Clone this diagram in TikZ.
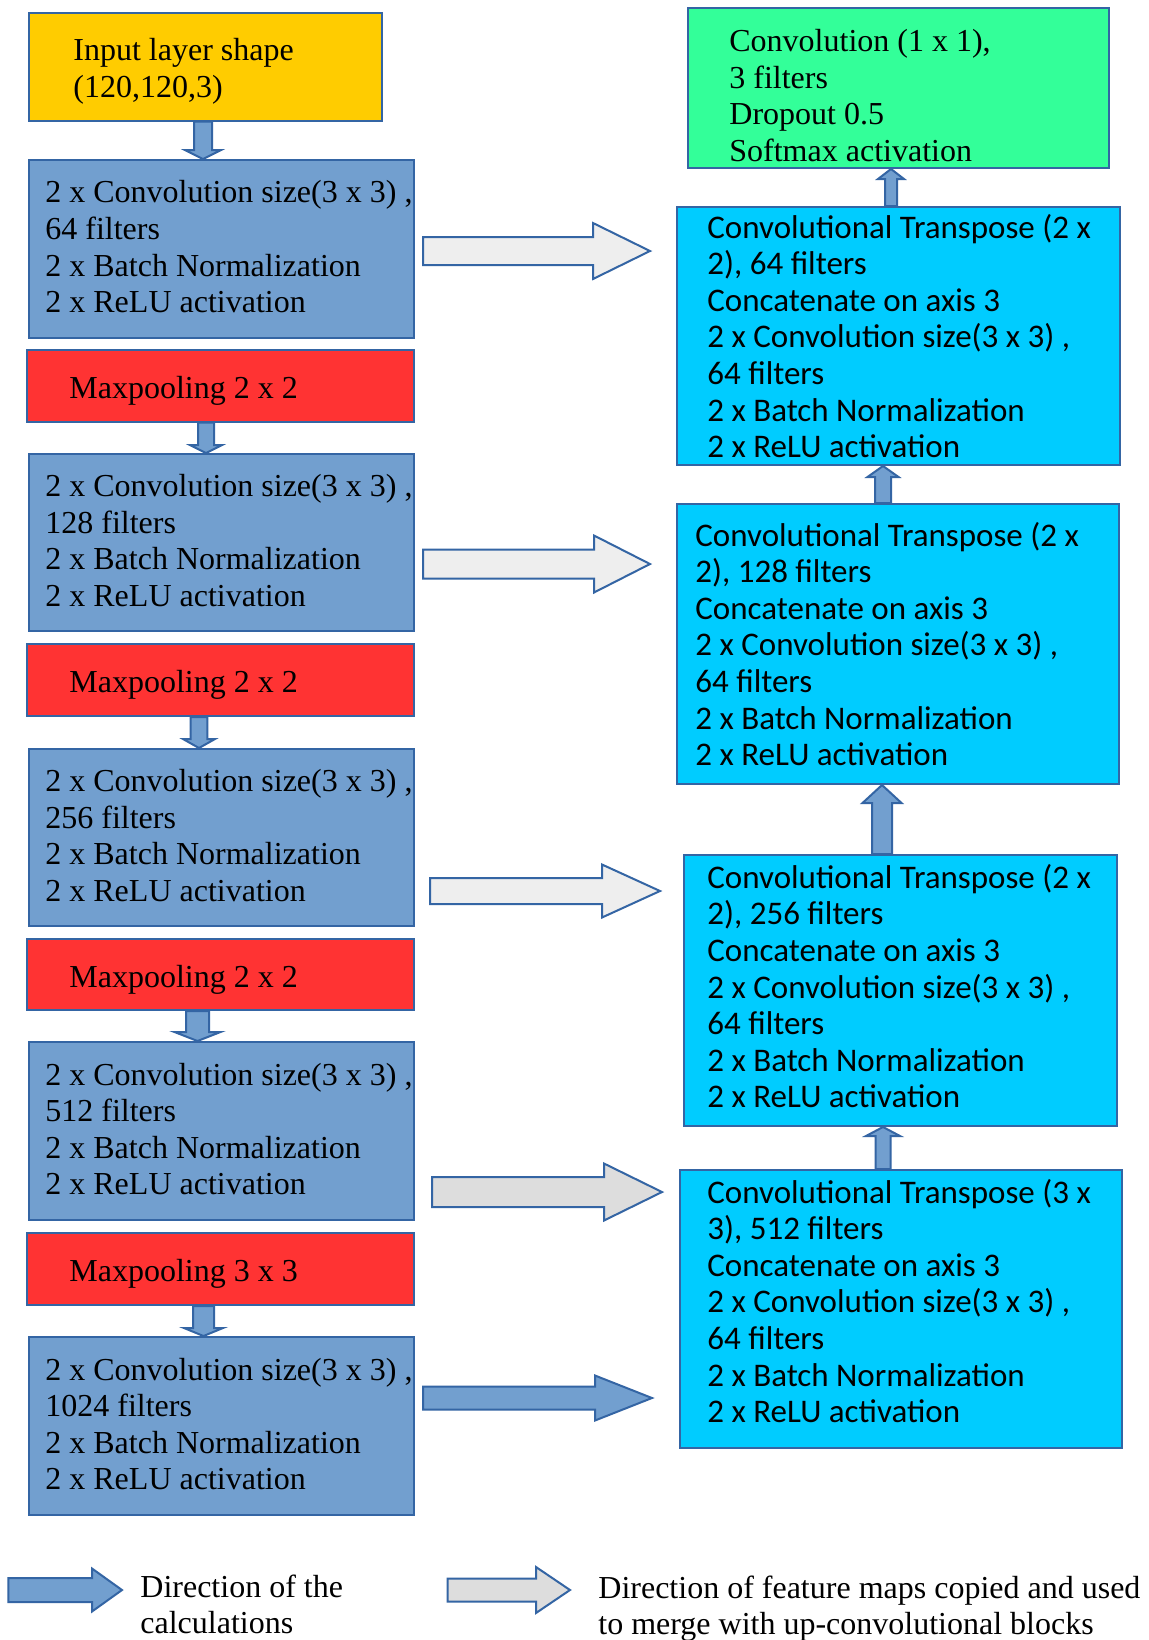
\documentclass[tikz,border=0pt]{standalone}
\usepackage{fontspec}
\setmainfont{Liberation Serif}
\newfontfamily\carl{Carlito}
\usetikzlibrary{calc,fit}
\definecolor{bord}{HTML}{3465A4}
\definecolor{inyel}{HTML}{FFCC00}
\definecolor{convblue}{HTML}{729FCF}
\definecolor{maxred}{HTML}{FF3333}
\definecolor{outgreen}{HTML}{33FF99}
\definecolor{upcyan}{HTML}{00CCFF}
\definecolor{skipgray}{HTML}{EEEEEE}
\definecolor{skipgrayb}{HTML}{DDDDDD}
\tikzset{
  box/.style={draw=bord, line width=1pt, inner sep=0pt, rectangle},
  ltxt/.style={inner sep=0pt, align=left, anchor=west, font=\fontsize{16}{18.3}\selectfont},
  rtxt/.style={inner sep=0pt, align=left, anchor=west, font=\carl\fontsize{16.5}{18.3}\selectfont},
  flowarr/.style={draw=bord, line width=1pt, fill=convblue, line join=miter},
  skiparr/.style={draw=bord, line width=1pt, fill=skipgray, line join=miter},
}
\newcommand\darr[6]{\draw[#1] ($(#2)+(-#4,0)$) -- ($(#3)+(-#4,-#6)$) -- ($(#3)+(-#5,-#6)$) -- (#3) -- ($(#3)+(#5,-#6)$) -- ($(#3)+(#4,-#6)$) -- ($(#2)+(#4,0)$) -- cycle;}
\newcommand\uarr[6]{\draw[#1] ($(#2)+(-#4,0)$) -- ($(#3)+(-#4,#6)$) -- ($(#3)+(-#5,#6)$) -- (#3) -- ($(#3)+(#5,#6)$) -- ($(#3)+(#4,#6)$) -- ($(#2)+(#4,0)$) -- cycle;}
\newcommand\rarr[6]{\draw[#1] ($(#2)+(0,-#4)$) -- ($(#3)+(-#6,-#4)$) -- ($(#3)+(-#6,-#5)$) -- (#3) -- ($(#3)+(-#6,#5)$) -- ($(#3)+(-#6,#4)$) -- ($(#2)+(0,#4)$) -- cycle;}
\begin{document}
\begin{tikzpicture}[x=0.5pt,y=-0.5pt]
\useasboundingbox[fill=white] (0,0) rectangle (1148,1640);

% ---------- left column ----------
\node[box, fill=inyel, fit={(29,12.7) (382,120.7)}] (in) {};
\node[box, fill=convblue, fit={(29,160) (414,337.5)}] (c1) {};
\node[box, fill=maxred, fit={(27,350) (414,421.5)}] (m1) {};
\node[box, fill=convblue, fit={(29,454) (414,631)}] (c2) {};
\node[box, fill=maxred, fit={(27,644) (414,716)}] (m2) {};
\node[box, fill=convblue, fit={(29,749) (414,926)}] (c3) {};
\node[box, fill=maxred, fit={(27,939) (414,1010)}] (m3) {};
\node[box, fill=convblue, fit={(29,1042) (414,1220)}] (c4) {};
\node[box, fill=maxred, fit={(27,1233) (414,1305)}] (m4) {};
\node[box, fill=convblue, fit={(29,1337) (414,1515)}] (c5) {};

\node[ltxt] (int) at ([xshift=22.5pt,yshift=-2.4pt]in.west) {Input layer shape\\(120,120,3)};
\node[ltxt] (c1t) at ([xshift=8.5pt,yshift=1pt]c1.west) {2 x Convolution size(3 x 3) ,\\64 filters\\2 x Batch Normalization\\2 x ReLU activation};
\node[ltxt] (m1t) at ([xshift=21.5pt,yshift=-2.6pt]m1.west) {Maxpooling 2 x 2};
\node[ltxt] (c2t) at ([xshift=8.5pt,yshift=1pt]c2.west) {2 x Convolution size(3 x 3) ,\\128 filters\\2 x Batch Normalization\\2 x ReLU activation};
\node[ltxt] (m2t) at ([xshift=21.5pt,yshift=-2.6pt]m2.west) {Maxpooling 2 x 2};
\node[ltxt] (c3t) at ([xshift=8.5pt,yshift=1pt]c3.west) {2 x Convolution size(3 x 3) ,\\256 filters\\2 x Batch Normalization\\2 x ReLU activation};
\node[ltxt] (m3t) at ([xshift=21.5pt,yshift=-2.6pt]m3.west) {Maxpooling 2 x 2};
\node[ltxt] (c4t) at ([xshift=8.5pt,yshift=1pt]c4.west) {2 x Convolution size(3 x 3) ,\\512 filters\\2 x Batch Normalization\\2 x ReLU activation};
\node[ltxt] (m4t) at ([xshift=21.5pt,yshift=-2.6pt]m4.west) {Maxpooling 3 x 3};
\node[ltxt] (c5t) at ([xshift=8.5pt,yshift=1pt]c5.west) {2 x Convolution size(3 x 3) ,\\1024 filters\\2 x Batch Normalization\\2 x ReLU activation};

% ---------- right column ----------
\node[box, fill=outgreen, fit={(688,8) (1109,168)}] (g) {};
\node[box, fill=upcyan, fit={(677,207) (1120,465)}] (u1) {};
\node[box, fill=upcyan, fit={(677,504) (1119,784)}] (u2) {};
\node[box, fill=upcyan, fit={(684,855) (1117,1126)}] (u3) {};
\node[box, fill=upcyan, fit={(680,1170) (1122,1448)}] (u4) {};

\node[ltxt] (gt) at ([xshift=21pt,yshift=-3.8pt]g.west) {Convolution (1 x 1),\\3 filters\\Dropout 0.5\\Softmax activation};
\node[rtxt] (u1t) at ([xshift=15.5pt]u1.west) {Convolutional Transpose (2 x\\2), 64 filters\\Concatenate on axis 3\\2 x Convolution size(3 x 3) ,\\64 filters\\2 x Batch Normalization\\2 x ReLU activation};
\node[rtxt] (u2t) at ([xshift=9.5pt]u2.west) {Convolutional Transpose (2 x\\2), 128 filters\\Concatenate on axis 3\\2 x Convolution size(3 x 3) ,\\64 filters\\2 x Batch Normalization\\2 x ReLU activation};
\node[rtxt] (u3t) at ([xshift=12pt,yshift=2.2pt]u3.west) {Convolutional Transpose (2 x\\2), 256 filters\\Concatenate on axis 3\\2 x Convolution size(3 x 3) ,\\64 filters\\2 x Batch Normalization\\2 x ReLU activation};
\node[rtxt] (u4t) at ([xshift=14pt,yshift=4pt]u4.west) {Convolutional Transpose (3 x\\3), 512 filters\\Concatenate on axis 3\\2 x Convolution size(3 x 3) ,\\64 filters\\2 x Batch Normalization\\2 x ReLU activation};

% ---------- vertical flow arrows ----------
\coordinate (x1) at (203,0);
\coordinate (x2) at (206,0);
\coordinate (x3) at (199,0);
\coordinate (x4) at (197.5,0);
\coordinate (x5) at (203.5,0);
\coordinate (xr1) at (891,0);
\coordinate (xr2) at (883,0);
\coordinate (xr3) at (882,0);
\coordinate (xr4) at (883,0);

\coordinate (d1a) at (in.south -| x1); \coordinate (d1b) at (c1.north -| x1);
\coordinate (d2a) at (m1.south -| x2); \coordinate (d2b) at (c2.north -| x2);
\coordinate (d3a) at (m2.south -| x3); \coordinate (d3b) at (c3.north -| x3);
\coordinate (d4a) at (m3.south -| x4); \coordinate (d4b) at (c4.north -| x4);
\coordinate (d5a) at (m4.south -| x5); \coordinate (d5b) at (c5.north -| x5);
\coordinate (e1a) at (u1.north -| xr1); \coordinate (e1b) at (g.south -| xr1);
\coordinate (e2a) at (u2.north -| xr2); \coordinate (e2b) at (u1.south -| xr2);
\coordinate (e3a) at (u3.north -| xr3); \coordinate (e3b) at (u2.south -| xr3);
\coordinate (e4a) at (u4.north -| xr4); \coordinate (e4b) at (u3.south -| xr4);

\darr{flowarr}{d1a}{d1b}{9}{18}{9}
\darr{flowarr}{d2a}{d2b}{8}{16}{8}
\darr{flowarr}{d3a}{d3b}{8.3}{16}{9}
\darr{flowarr}{d4a}{d4b}{11.5}{23}{9}
\darr{flowarr}{d5a}{d5b}{10.5}{19.5}{8}
\uarr{flowarr}{e1a}{e1b}{6}{13}{10}
\uarr{flowarr}{e2a}{e2b}{8}{15.5}{11}
\uarr{flowarr}{e3a}{e3b}{10}{19.5}{18}
\uarr{flowarr}{e4a}{e4b}{7.5}{17}{9}

% ---------- skip arrows ----------
\coordinate (k1a) at (423,251); \coordinate (k1b) at (650,251);
\coordinate (k2a) at (423,564); \coordinate (k2b) at (650,564);
\coordinate (k3a) at (430,891); \coordinate (k3b) at (660,891);
\coordinate (k4a) at (432,1192); \coordinate (k4b) at (662,1192);
\coordinate (k5a) at (423,1398); \coordinate (k5b) at (652,1398);
\rarr{skiparr}{k1a}{k1b}{14}{28}{57}
\rarr{skiparr}{k2a}{k2b}{14.5}{28.5}{56}
\rarr{skiparr}{k3a}{k3b}{13}{26.5}{58}
\rarr{skiparr,fill=skipgrayb}{k4a}{k4b}{15}{28.5}{58}
\rarr{flowarr}{k5a}{k5b}{11.5}{22.5}{57}

% ---------- legend ----------
\coordinate (l1a) at (8.4,1590); \coordinate (l1b) at (122,1590);
\coordinate (l2a) at (447.5,1590); \coordinate (l2b) at (570,1590);
\rarr{flowarr}{l1a}{l1b}{12}{21.5}{30}
\rarr{skiparr,fill=skipgrayb}{l2a}{l2b}{11.5}{23}{34}
\node[ltxt] (l1t) at (140,1604.5) {Direction of the\\calculations};
\node[ltxt] (l2t) at (598,1608.5) {Direction of feature maps copied and used\\to merge with up-convolutional blocks};
\end{tikzpicture}
\end{document}
